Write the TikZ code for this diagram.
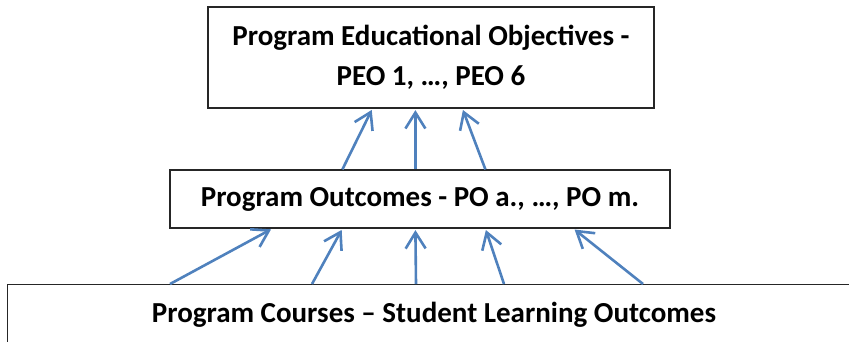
\documentclass[tikz,border=0pt]{standalone}
\usepackage{fontspec}
\setmainfont{Carlito}
\usetikzlibrary{arrows.meta,calc}
\definecolor{linkblue}{HTML}{4F81BD}
\begin{document}
\begin{tikzpicture}[x=1pt,y=-1pt,
  boxfont/.style={font=\bfseries\fontsize{29}{40}\selectfont},
  box/.style={draw=black!85, line width=1.2pt, fill=white, inner sep=0pt,
    boxfont, align=center},
  link/.style={draw=linkblue, line width=2.6pt, shorten >=1.5pt,
    -{Straight Barb[length=16pt,width=20pt,line width=2.6pt]}}]
\useasboundingbox (0,0) rectangle (849,341);

% three levels of outcomes
\node[box, minimum width=446pt, minimum height=101pt] (peo) at (431,57.5)
  {Program Educational Objectives -\\PEO 1, …, PEO 6};
\node[box, minimum width=500pt, minimum height=58pt] (outcomes) at (420,199)
  {Program Outcomes - PO a., …, PO m.};
\node[box, anchor=north west, minimum width=880pt, minimum height=100pt] (courses) at (7,284) {};
\node[boxfont, anchor=base, inner sep=0pt] (courses-text) at (434,322)
  {Program Courses – Student Learning Outcomes};

% outcomes feed the objectives
\draw[link] ($(outcomes.north west)+(173,0)$) -- ($(peo.south west)+(165,0)$);
\draw[link] ($(outcomes.north west)+(246,0)$) -- ($(peo.south west)+(208,0)$);
\draw[link] ($(outcomes.north west)+(316,0)$) -- ($(peo.south west)+(255,0)$);

% courses feed the outcomes
\draw[link] ($(courses.north west)+(163,0)$) -- ($(outcomes.south west)+(103,0)$);
\draw[link] ($(courses.north west)+(305,0)$) -- ($(outcomes.south west)+(173,0)$);
\draw[link] ($(courses.north west)+(409,0)$) -- ($(outcomes.south west)+(246,0)$);
\draw[link] ($(courses.north west)+(497,0)$) -- ($(outcomes.south west)+(316,0)$);
\draw[link] ($(courses.north west)+(636,0)$) -- ($(outcomes.south west)+(404,0)$);
\end{tikzpicture}
\end{document}
